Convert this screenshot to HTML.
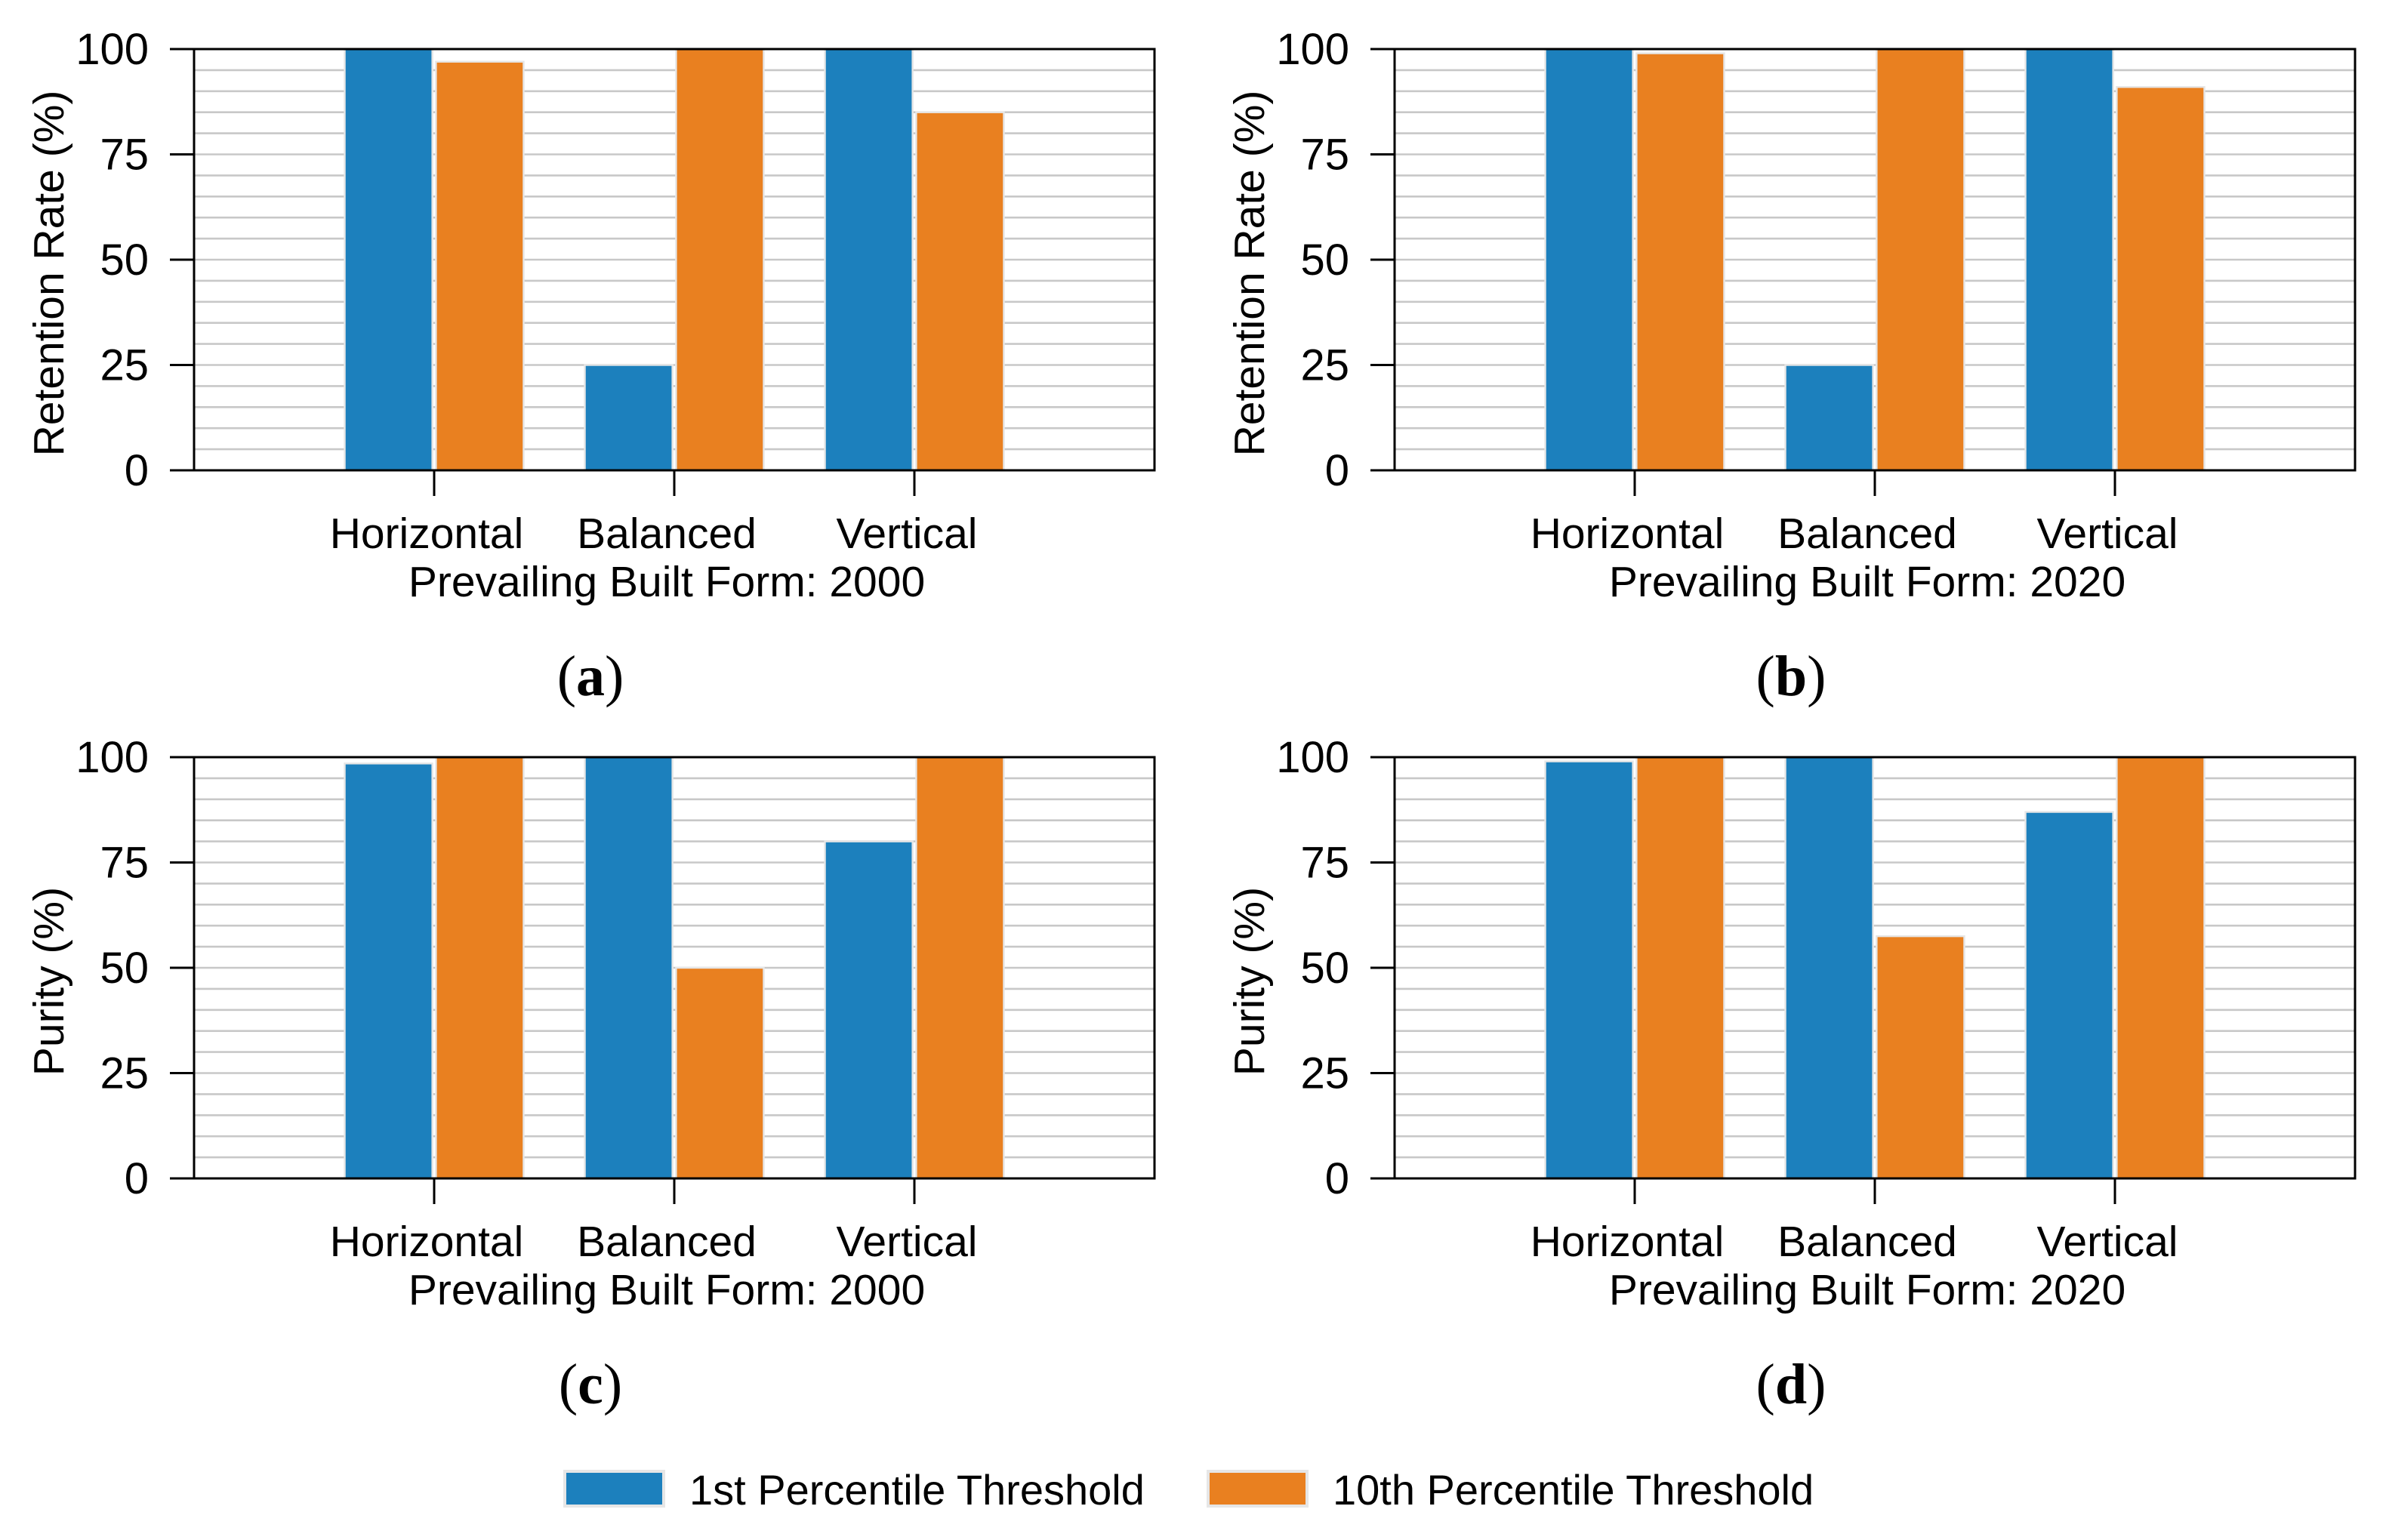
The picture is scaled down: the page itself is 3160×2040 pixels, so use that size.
<!DOCTYPE html>
<html><head><meta charset="utf-8"><style>
html,body{margin:0;padding:0;background:#fff;}
svg{display:block;}
text{font-family:"Liberation Sans",sans-serif;fill:#000;}
.serif{font-family:"Liberation Serif",serif;}
</style></head><body>
<svg id="fig" width="3160" height="2040" viewBox="0 0 3160 2040" xmlns="http://www.w3.org/2000/svg"></svg>
<script>
const categories = ["Horizontal","Balanced","Vertical"];
const yTicks = [0,25,50,75,100];
const seriesNames = ["1st Percentile Threshold","10th Percentile Threshold"];
const aBlue = [100,25,100];
const aOrange = [97,100,85];
const bBlue = [100,25,100];
const bOrange = [99,100,91];
const cBlue = [98.5,100,80];
const cOrange = [100,50,100];
const dBlue = [99,100,87];
const dOrange = [100,57.5,100];

const NS="http://www.w3.org/2000/svg";
const svg=document.getElementById('fig');
const colors=["#1c80bd","#e98020"];
function mk(tag,attrs,parent){const e=document.createElementNS(NS,tag);for(const k in attrs)e.setAttribute(k,attrs[k]);(parent||svg).appendChild(e);return e;}

function panel(id,x0,y0,blue,orange,ylabel,xlabel,tag){
  const x1=x0+1272,y1=y0+558;
  const g=mk('g',{});
  
  
  const xs=v=>x0+(v/4)*(x1-x0);
  const ys=v=>y1-(v/100)*(y1-y0);
  for(let v=5;v<100;v+=5){
    const l=mk('line',{x1:x0,x2:x1,y1:ys(v),y2:ys(v),stroke:"#c8c8c8","stroke-width":2.6},g);
    
    
  }
  const series=[blue,orange];
  series.forEach((vals,si)=>{
    vals.forEach((v,i)=>{
      const c=i+1, off=si===0?-0.19:0.19, w=0.365;
      const r=mk('rect',{x:xs(c+off-w/2),y:ys(v),width:xs(w)-xs(0),height:ys(0)-ys(v),fill:colors[si],stroke:"#e6e6e6","stroke-width":2.4},g);
      
      
    });
  });
  const f=mk('rect',{x:x0,y:y0,width:x1-x0,height:y1-y0,fill:"none",stroke:"#000","stroke-width":3},g);
  
  
  yTicks.forEach(v=>{
    mk('line',{x1:x0-32,x2:x0,y1:ys(v),y2:ys(v),stroke:"#000","stroke-width":3},g);
    const t=mk('text',{x:x0-60,y:ys(v)+20,"text-anchor":"end","font-size":58},g);
    t.textContent=v;
    
    
  });
  categories.forEach((c,i)=>{
    mk('line',{x1:xs(i+1),x2:xs(i+1),y1:y1,y2:y1+34,stroke:"#000","stroke-width":3},g);
    const t=mk('text',{x:xs(i+1)-10,y:y1+103,"text-anchor":"middle","font-size":57},g);
    t.textContent=c;
    
    
  });
  const xl=mk('text',{x:(x0+x1)/2-10,y:y1+167,"text-anchor":"middle","font-size":57},g);
  xl.textContent=xlabel;
  
  
  const yl=mk('text',{x:0,y:0,"text-anchor":"middle","font-size":57,transform:`translate(${x0-173},${(y0+y1)/2+18}) rotate(-90)`},g);
  yl.textContent=ylabel;
  
  
  const pl=mk('text',{x:(x0+x1)/2-111,y:y1+298,"text-anchor":"middle","font-size":76,"class":"serif"},g);
  pl.innerHTML='(<tspan font-weight="bold">'+tag+'</tspan>)';
  
  
}
panel('a',257,65,aBlue,aOrange,"Retention Rate (%)","Prevailing Built Form: 2000","a");
panel('b',1847,65,bBlue,bOrange,"Retention Rate (%)","Prevailing Built Form: 2020","b");
panel('c',257,1003,cBlue,cOrange,"Purity (%)","Prevailing Built Form: 2000","c");
panel('d',1847,1003,dBlue,dOrange,"Purity (%)","Prevailing Built Form: 2020","d");

const lg=mk('g',{});


[[748,913],[1600,1765]].forEach((p,i)=>{
  const r=mk('rect',{x:p[0],y:1949,width:131,height:46,fill:colors[i],stroke:"#e6e6e6","stroke-width":4},lg);
  
  
  const t=mk('text',{x:p[1],y:1993,"font-size":56},lg);
  t.textContent=seriesNames[i];
  
  
});
</script>
</body></html>
